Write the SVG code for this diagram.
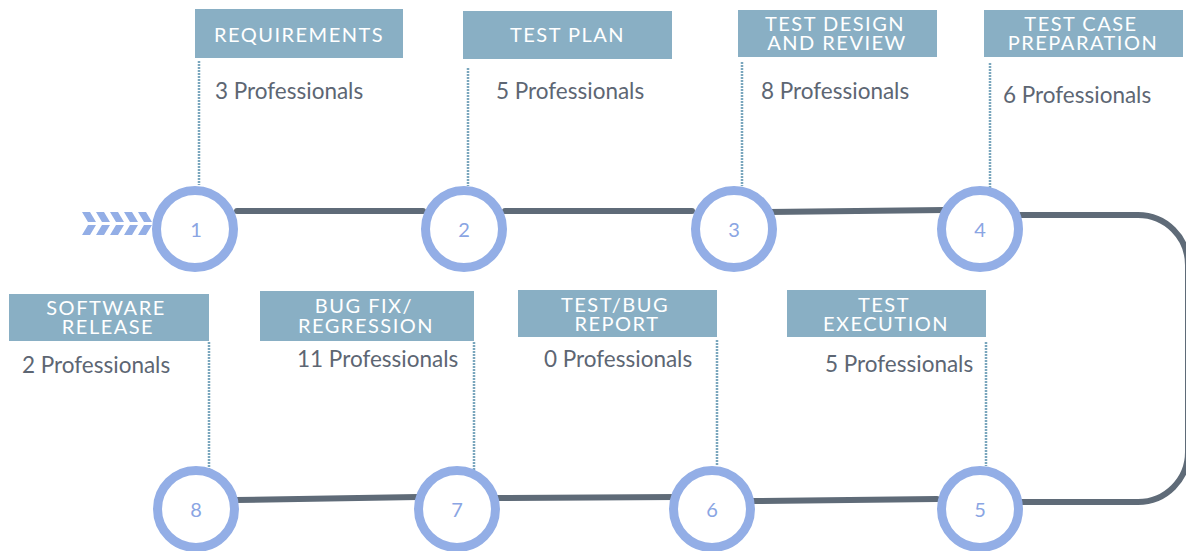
<svg xmlns="http://www.w3.org/2000/svg" width="1186" height="551" viewBox="0 0 1186 551">
<style>
.box{fill:#89afc4;}
.title{font-family:Lato,"Liberation Sans",sans-serif;font-size:20px;fill:#ffffff;text-anchor:middle;letter-spacing:1.5px;}
.prof{font-family:Lato,"Liberation Sans",sans-serif;font-size:22.5px;fill:#5d6673;}
.num{font-family:Lato,"Liberation Sans",sans-serif;font-size:20px;fill:#8aa5e3;text-anchor:middle;}
.ring{fill:#ffffff;stroke:#93aee6;stroke-width:9;}
.dot{stroke:#7aa6bd;stroke-width:2.5;stroke-dasharray:2 1;fill:none;}
.conn{stroke:#5f6b78;stroke-width:6;stroke-linecap:round;fill:none;}
.chev{fill:#93aee6;}
</style>
<rect width="1186" height="551" fill="#ffffff"/>
<g id="connectors">
<path class="conn" d="M237 211 L423 211"/>
<path class="conn" d="M505 211 L692 211"/>
<path class="conn" d="M768 212 L945 210"/>
<path class="conn" d="M1020 215 H1138 A50 50 0 0 1 1188 265 V452 A50 50 0 0 1 1138 502 H1020"/>
<path class="conn" d="M937 499 L754 501"/>
<path class="conn" d="M677 497 L497 498"/>
<path class="conn" d="M418 497 L236 500"/>
</g>
<g id="start-chevrons">
<polygon class="chev" points="82,212 90,212 96,222 88,222"/>
<polygon class="chev" points="88,225 96,225 90,235 82,235"/>
<polygon class="chev" points="96,212 104,212 110,222 102,222"/>
<polygon class="chev" points="102,225 110,225 104,235 96,235"/>
<polygon class="chev" points="110,212 118,212 124,222 116,222"/>
<polygon class="chev" points="116,225 124,225 118,235 110,235"/>
<polygon class="chev" points="124,212 132,212 138,222 130,222"/>
<polygon class="chev" points="130,225 138,225 132,235 124,235"/>
<polygon class="chev" points="138,212 146,212 152,222 144,222"/>
<polygon class="chev" points="144,225 152,225 146,235 138,235"/>
</g>
<g id="node1">
<rect class="box" x="195" y="9" width="208" height="49"/>
<text class="title" x="299" y="42">REQUIREMENTS</text>
<line class="dot" x1="199" y1="61" x2="199" y2="185"/>
<text class="prof" x="215" y="99">3 Professionals</text>
<circle class="ring" cx="195" cy="229" r="38.5"/>
<text class="num" x="196" y="237">1</text>
</g>
<g id="node2">
<rect class="box" x="463" y="11" width="209" height="48"/>
<text class="title" x="567.5" y="42">TEST PLAN</text>
<line class="dot" x1="468" y1="68" x2="468" y2="186"/>
<text class="prof" x="496" y="99">5 Professionals</text>
<circle class="ring" cx="464" cy="229" r="38.5"/>
<text class="num" x="464" y="237">2</text>
</g>
<g id="node3">
<rect class="box" x="738" y="10" width="199" height="47"/>
<text class="title" x="835" y="31">TEST DESIGN</text>
<text class="title" x="837" y="50">AND REVIEW</text>
<line class="dot" x1="742" y1="62" x2="742" y2="186"/>
<text class="prof" x="761" y="99">8 Professionals</text>
<circle class="ring" cx="734" cy="229" r="38.5"/>
<text class="num" x="734" y="237">3</text>
</g>
<g id="node4">
<rect class="box" x="984" y="10" width="199" height="47"/>
<text class="title" x="1081" y="31">TEST CASE</text>
<text class="title" x="1083" y="50">PREPARATION</text>
<line class="dot" x1="990" y1="63" x2="990" y2="192"/>
<text class="prof" x="1003" y="103">6 Professionals</text>
<circle class="ring" cx="980" cy="229" r="38.5"/>
<text class="num" x="980" y="237">4</text>
</g>
<g id="node5">
<rect class="box" x="787" y="290" width="199" height="47"/>
<text class="title" x="884" y="312">TEST</text>
<text class="title" x="886" y="331">EXECUTION</text>
<line class="dot" x1="986" y1="342" x2="986" y2="466"/>
<text class="prof" x="825" y="372">5 Professionals</text>
<circle class="ring" cx="980" cy="509" r="38.5"/>
<text class="num" x="980" y="517">5</text>
</g>
<g id="node6">
<rect class="box" x="518" y="290" width="199" height="47"/>
<text class="title" x="615" y="312">TEST/BUG</text>
<text class="title" x="617" y="331">REPORT</text>
<line class="dot" x1="717" y1="340" x2="717" y2="466"/>
<text class="prof" x="544" y="367">0 Professionals</text>
<circle class="ring" cx="712" cy="509" r="38.5"/>
<text class="num" x="712" y="517">6</text>
</g>
<g id="node7">
<rect class="box" x="260" y="291" width="214" height="50"/>
<text class="title" x="364" y="313">BUG FIX/</text>
<text class="title" x="366" y="333">REGRESSION</text>
<line class="dot" x1="474" y1="342" x2="474" y2="472"/>
<text class="prof" x="297" y="367">11 Professionals</text>
<circle class="ring" cx="457" cy="509" r="38.5"/>
<text class="num" x="457" y="517">7</text>
</g>
<g id="node8">
<rect class="box" x="9" y="294" width="200" height="47"/>
<text class="title" x="106" y="315">SOFTWARE</text>
<text class="title" x="108" y="334">RELEASE</text>
<line class="dot" x1="209" y1="342" x2="209" y2="470"/>
<text class="prof" x="22" y="373">2 Professionals</text>
<circle class="ring" cx="196" cy="509" r="38.5"/>
<text class="num" x="196" y="517">8</text>
</g>
</svg>
